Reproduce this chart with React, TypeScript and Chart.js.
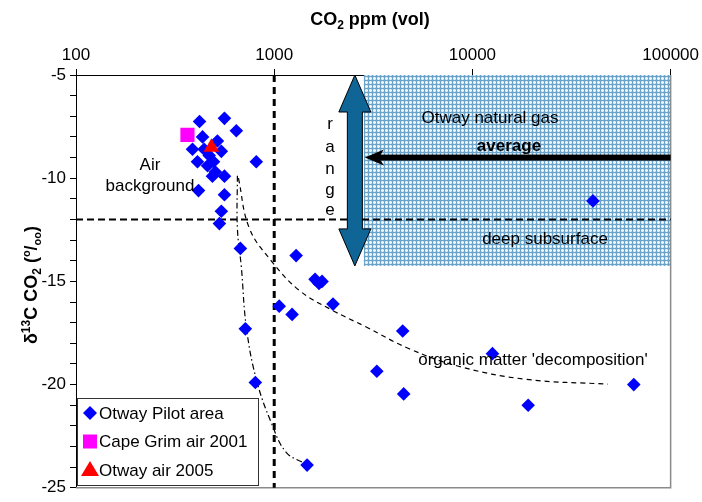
import React, { useEffect, useRef } from "react";
import { Chart, registerables } from "chart.js";

Chart.register(...registerables);

// ---- data ----
const pilotPpm = [420, 561, 644, 387, 435, 517, 541, 410, 461, 488, 561, 812, 415, 561, 541, 529, 494, 443, 505, 470,
  675, 715, 803, 1465, 1290, 1060, 1231, 1607, 1683, 1743, 1980, 3294, 4449, 4500, 12620, 19110, 40550, 65170];
const pilotD13C = [-7.25, -7.1, -7.7, -8.6, -8.0, -8.2, -8.7, -9.2, -9.4, -9.9, -9.9, -9.2, -10.6, -10.8, -11.6, -12.2, -9.2, -8.6, -9.7, -8.9,
  -13.4, -17.3, -19.9, -23.9, -13.75, -16.2, -16.6, -14.9, -15.1, -15.0, -16.1, -19.35, -17.4, -20.45, -18.5, -21.0, -11.1, -20.0];
const capeGrimPpm = [365];
const capeGrimD13C = [-7.9];
const otwayAirPpm = [482];
const otwayAirD13C = [-8.5];

// trend curves (data coordinates)
const mixCurvePpm = [652, 652, 683, 723, 812, 966, 1149, 1447];
const mixCurveD13C = [-9.88, -12.42, -14.33, -17.2, -19.74, -21.84, -23.28, -23.85];
const decompCurvePpm = [660, 749, 966, 1336, 1956, 2899, 4767, 8506, 18470, 48220];
const decompCurveD13C = [-10.0, -12.42, -14.0, -15.43, -16.39, -17.2, -18.25, -19.11, -19.74, -19.98];

const xTicks = [100, 1000, 10000, 100000];
const yMin = -25;
const yMax = -5;
const airThresholdPpm = 1000;
const deepThresholdD13C = -12;
const naturalGasMinPpm = 2833;
const naturalGasRange = [-14.25, -5];
const naturalGasAverage = -9;

const legendItems = [
  { label: "Otway Pilot area", style: "rectRot", color: "#0000ff" },
  { label: "Cape Grim air 2001", style: "rect", color: "#ff00ff" },
  { label: "Otway air 2005", style: "triangle", color: "#ff0000" },
];

const FONT = "'Liberation Sans', Arial, sans-serif";

const pts = (xs: number[], ys: number[]) => xs.map((x, i) => ({ x, y: ys[i] }));

type Seg = { t: string; size: number; dy?: number };
function drawRich(ctx: CanvasRenderingContext2D, segs: Seg[], cx: number, cy: number, bold: boolean) {
  let total = 0;
  for (const s of segs) {
    ctx.font = `${bold ? "bold " : ""}${s.size}px ${FONT}`;
    total += ctx.measureText(s.t).width;
  }
  let x = cx - total / 2;
  ctx.textBaseline = "alphabetic";
  ctx.textAlign = "left";
  for (const s of segs) {
    ctx.font = `${bold ? "bold " : ""}${s.size}px ${FONT}`;
    ctx.fillText(s.t, x, cy + (s.dy || 0));
    x += ctx.measureText(s.t).width;
  }
}

function makePattern(): CanvasPattern | string {
  const c = document.createElement("canvas");
  c.width = 4;
  c.height = 4;
  const g = c.getContext("2d");
  if (!g) return "#a9cde3";
  g.fillStyle = "#b8d7ea";
  g.fillRect(0, 0, 4, 4);
  g.fillStyle = "#eef5fa";
  g.fillRect(2, 0, 1, 4);
  g.fillRect(0, 2, 4, 1);
  g.fillStyle = "#6aa3ca";
  g.fillRect(0, 0, 1, 4);
  g.fillRect(0, 0, 4, 1);
  const p = g.createPattern(c, "repeat");
  return p || "#a9cde3";
}

export default function App() {
  const ref = useRef<HTMLCanvasElement>(null);
  useEffect(() => {
    document.body.style.margin = "0";
    if (!ref.current) return;
    const pattern = makePattern();

    const annot = {
      id: "annot",
      beforeDatasetsDraw(chart: any) {
        const { ctx, chartArea: ca, scales } = chart;
        const xs = scales.x, ys = scales.y;
        ctx.save();
        const hx = xs.getPixelForValue(naturalGasMinPpm);
        const hy0 = ys.getPixelForValue(naturalGasRange[1]);
        const hy1 = ys.getPixelForValue(naturalGasRange[0]);
        ctx.fillStyle = pattern;
        ctx.fillRect(hx, hy0, ca.right - hx, hy1 - hy0);
        ctx.strokeStyle = "#8a8a8a";
        ctx.lineWidth = 1.5;
        ctx.beginPath();
        ctx.moveTo(ca.right, ca.top);
        ctx.lineTo(ca.right, ca.bottom);
        ctx.lineTo(ca.left, ca.bottom);
        ctx.stroke();
        ctx.strokeStyle = "#000";
        ctx.lineWidth = 3;
        ctx.setLineDash([7, 5]);
        const vx = xs.getPixelForValue(airThresholdPpm);
        ctx.beginPath();
        ctx.moveTo(vx, ca.top);
        ctx.lineTo(vx, ca.bottom);
        ctx.stroke();
        ctx.lineWidth = 2;
        ctx.setLineDash([7, 4]);
        const hyl = ys.getPixelForValue(deepThresholdD13C);
        ctx.beginPath();
        ctx.moveTo(ca.left, hyl);
        ctx.lineTo(ca.right, hyl);
        ctx.stroke();
        ctx.setLineDash([]);
        ctx.restore();
      },
      afterDatasetsDraw(chart: any) {
        const { ctx, chartArea: ca, scales } = chart;
        const xs = scales.x, ys = scales.y;
        ctx.save();
        const hx = xs.getPixelForValue(naturalGasMinPpm);
        const top = ys.getPixelForValue(naturalGasRange[1]);
        const bot = ys.getPixelForValue(naturalGasRange[0]);
        const cx = hx - 9;
        const hh = 37, hw = 16, sw = 7.5;
        ctx.beginPath();
        ctx.moveTo(cx, top);
        ctx.lineTo(cx + hw, top + hh);
        ctx.lineTo(cx + sw, top + hh);
        ctx.lineTo(cx + sw, bot - hh);
        ctx.lineTo(cx + hw, bot - hh);
        ctx.lineTo(cx, bot);
        ctx.lineTo(cx - hw, bot - hh);
        ctx.lineTo(cx - sw, bot - hh);
        ctx.lineTo(cx - sw, top + hh);
        ctx.lineTo(cx - hw, top + hh);
        ctx.closePath();
        ctx.fillStyle = "#0f6596";
        ctx.fill();
        ctx.strokeStyle = "#000";
        ctx.lineWidth = 1;
        ctx.stroke();
        const ay = ys.getPixelForValue(naturalGasAverage);
        const tip = hx + 1;
        ctx.fillStyle = "#000";
        ctx.fillRect(tip + 12, ay - 3, ca.right - tip - 12, 6);
        ctx.beginPath();
        ctx.moveTo(tip, ay);
        ctx.lineTo(tip + 19, ay - 8);
        ctx.lineTo(tip + 14, ay);
        ctx.lineTo(tip + 19, ay + 8);
        ctx.closePath();
        ctx.fill();
        ctx.fillStyle = "#000";
        ctx.textAlign = "center";
        ctx.textBaseline = "middle";
        ctx.font = `17px ${FONT}`;
        ctx.fillText("Otway natural gas", 490, 118);
        ctx.fillText("deep subsurface", 545, 239);
        ctx.fillText("organic matter 'decomposition'", 533, 360);
        ctx.fillText("Air", 150, 165);
        ctx.fillText("background", 150, 186);
        const rl = ["r", "a", "n", "g", "e"];
        const ry = [124, 147, 169, 190, 210];
        rl.forEach((l, i) => ctx.fillText(l, 330, ry[i]));
        ctx.font = `bold 17px ${FONT}`;
        ctx.fillText("average", 509, 146);
        const lx = 77, ly = 398, lw = 181, lh = 87;
        ctx.fillStyle = "#fff";
        ctx.fillRect(lx, ly, lw, lh);
        ctx.strokeStyle = "#333";
        ctx.lineWidth = 1;
        ctx.strokeRect(lx + 0.5, ly + 0.5, lw, lh);
        legendItems.forEach((it, i) => {
          const iy = 413 + i * 28.5;
          const mx = 90;
          ctx.fillStyle = it.color;
          ctx.beginPath();
          if (it.style === "rectRot") {
            ctx.moveTo(mx - 7, iy); ctx.lineTo(mx, iy - 7); ctx.lineTo(mx + 7, iy); ctx.lineTo(mx, iy + 7);
          } else if (it.style === "rect") {
            ctx.rect(mx - 7, iy - 7, 14, 14);
          } else {
            ctx.moveTo(mx, iy - 9); ctx.lineTo(mx + 9, iy + 6); ctx.lineTo(mx - 9, iy + 6);
          }
          ctx.closePath();
          ctx.fill();
          ctx.fillStyle = "#000";
          ctx.textAlign = "left";
          ctx.textBaseline = "middle";
          ctx.font = `17px ${FONT}`;
          ctx.fillText(it.label, 99, iy + 1);
        });
        ctx.fillStyle = "#000";
        drawRich(ctx, [
          { t: "CO", size: 18 }, { t: "2", size: 12, dy: 4 }, { t: " ppm (vol)", size: 18 },
        ], 370, 25, true);
        ctx.translate(30, 285);
        ctx.rotate(-Math.PI / 2);
        drawRich(ctx, [
          { t: "δ", size: 18 }, { t: "13", size: 12, dy: -7 }, { t: "C CO", size: 18 },
          { t: "2", size: 12, dy: 4 }, { t: " (", size: 18 }, { t: "o", size: 11, dy: -7 },
          { t: "/", size: 18 }, { t: "oo", size: 11, dy: 4 }, { t: ")", size: 18 },
        ], 0, 7, true);
        ctx.restore();
      },
    };

    const chart = new Chart(ref.current, {
      type: "scatter",
      data: {
        datasets: [
          {
            label: "Otway Pilot area",
            data: pts(pilotPpm, pilotD13C),
            order: 2,
            pointStyle: "rectRot",
            pointRadius: 6.8,
            pointBorderWidth: 0,
            backgroundColor: "#0000ff",
            borderColor: "#0000ff",
          },
          {
            label: "Cape Grim air 2001",
            data: pts(capeGrimPpm, capeGrimD13C),
            order: 1,
            pointStyle: "rect",
            pointRadius: 10,
            pointBorderWidth: 0,
            backgroundColor: "#ff00ff",
            borderColor: "#ff00ff",
          },
          {
            label: "Otway air 2005",
            data: pts(otwayAirPpm, otwayAirD13C),
            order: 0,
            pointStyle: "triangle",
            pointRadius: 9,
            pointBorderWidth: 0,
            backgroundColor: "#ff0000",
            borderColor: "#ff0000",
          },
          {
            label: "mixing",
            data: pts(mixCurvePpm, mixCurveD13C),
            order: 3,
            showLine: true,
            pointRadius: 0,
            borderColor: "#000",
            borderWidth: 1.2,
            borderDash: [6, 3, 1.5, 3],
            tension: 0.4,
          },
          {
            label: "decomposition",
            data: pts(decompCurvePpm, decompCurveD13C),
            order: 3,
            showLine: true,
            pointRadius: 0,
            borderColor: "#000",
            borderWidth: 1.2,
            borderDash: [5, 4],
            tension: 0.4,
          },
        ],
      },
      options: {
        animation: false,
        responsive: true,
        maintainAspectRatio: false,
        layout: { padding: { left: 0, right: 30, top: 0, bottom: 9 } },
        plugins: { legend: { display: false }, tooltip: { enabled: false } },
        scales: {
          x: {
            type: "logarithmic",
            position: "top",
            min: 100,
            max: 100000,
            afterBuildTicks: (s: any) => { s.ticks = xTicks.map((v) => ({ value: v })); },
            afterFit: (s: any) => { s.height = 75; },
            ticks: {
              color: "#000",
              font: { family: FONT, size: 17 },
              padding: 3,
              maxRotation: 0,
              callback: (v: any) => String(v),
            },
            grid: { drawOnChartArea: false, drawTicks: true, tickLength: 6, color: "#000" },
            border: { display: true, color: "#000", width: 1 },
          },
          y: {
            min: yMin,
            max: yMax,
            afterFit: (s: any) => { s.width = 76; },
            ticks: {
              stepSize: 1,
              autoSkip: false,
              color: "#000",
              font: { family: FONT, size: 17 },
              padding: 4,
              callback: (v: any) => (Number(v) % 5 === 0 ? String(v) : ""),
            },
            grid: { drawOnChartArea: false, drawTicks: true, tickLength: 6, color: "#000" },
            border: { display: true, color: "#000", width: 1 },
          },
        },
      },
      plugins: [annot],
    } as any);
    return () => chart.destroy();
  }, []);
  return (
    <div style={{ width: 702, height: 502, position: "relative", background: "#fff" }}>
      <canvas ref={ref} />
    </div>
  );
}
